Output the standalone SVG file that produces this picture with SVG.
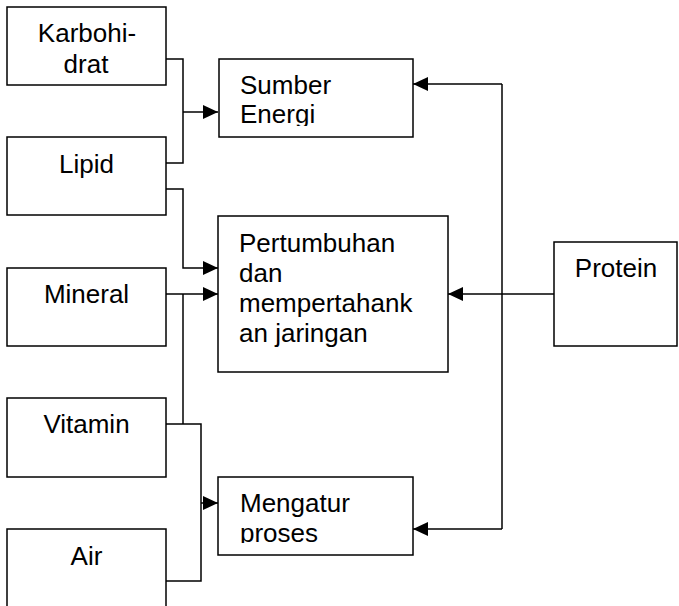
<svg xmlns="http://www.w3.org/2000/svg" width="679" height="606" viewBox="0 0 679 606">
<style>
.box{fill:#fff;stroke:#000;stroke-width:1.5}
.t{font-family:"Liberation Sans",Arial,sans-serif;font-size:26px;fill:#000}
.c{text-anchor:middle}
.ln{fill:none;stroke:#000;stroke-width:1.5}
.ar{fill:none;stroke:#000;stroke-width:1.5;marker-end:url(#ah)}
</style>
<defs>
<marker id="ah" markerUnits="userSpaceOnUse" markerWidth="16" markerHeight="16" viewBox="0 0 16 16" refX="15" refY="8" orient="auto">
<path d="M0,1 L15,8 L0,15 Z" fill="#000"/>
</marker>
<clipPath id="clipS"><rect x="219" y="59" width="194" height="67"/></clipPath>
<clipPath id="clipM"><rect x="218" y="477" width="195" height="66"/></clipPath>
</defs>
<g id="connectors">
<path class="ln" d="M166,59 H183 V163 H166"/>
<path class="ar" d="M183,112 H218"/>
<path class="ar" d="M166,189 H183 V268 H218"/>
<path class="ar" d="M166,294 H218"/>
<path class="ln" d="M183,294 V424"/>
<path class="ln" d="M166,424 H201 V581 H166"/>
<path class="ar" d="M201,503 H218"/>
<path class="ar" d="M554,294 H448"/>
<path class="ln" d="M502,84 V529"/>
<path class="ar" d="M502,84 H413"/>
<path class="ar" d="M502,529 H413"/>
</g>
<g id="karbohidrat">
<rect class="box" x="7" y="7" width="159" height="78"/>
<text class="t c" x="87" y="42">Karbohi-</text>
<text class="t c" x="86" y="73">drat</text>
</g>
<g id="lipid">
<rect class="box" x="7" y="137" width="159" height="78"/>
<text class="t c" x="86.5" y="173">Lipid</text>
</g>
<g id="mineral">
<rect class="box" x="7" y="268" width="159" height="78"/>
<text class="t c" x="86.5" y="303">Mineral</text>
</g>
<g id="vitamin">
<rect class="box" x="7" y="398" width="159" height="79"/>
<text class="t c" x="86.5" y="433">Vitamin</text>
</g>
<g id="air">
<rect class="box" x="7" y="529" width="159" height="100"/>
<text class="t c" x="86.5" y="565">Air</text>
</g>
<g id="sumber-energi">
<rect class="box" x="219" y="59" width="194" height="78"/>
<g clip-path="url(#clipS)">
<text class="t" x="240" y="94">Sumber</text>
<text class="t" x="240" y="123">Energi</text>
</g>
</g>
<g id="pertumbuhan">
<rect class="box" x="218" y="216" width="230" height="156"/>
<text class="t" x="239" y="252">Pertumbuhan</text>
<text class="t" x="239" y="282">dan</text>
<text class="t" x="239" y="312">mempertahank</text>
<text class="t" x="239" y="342">an jaringan</text>
</g>
<g id="mengatur-proses">
<rect class="box" x="218" y="477" width="195" height="78"/>
<g clip-path="url(#clipM)">
<text class="t" x="240" y="512">Mengatur</text>
<text class="t" x="240" y="542">proses</text>
</g>
</g>
<g id="protein">
<rect class="box" x="554" y="242" width="123" height="104"/>
<text class="t c" x="616" y="277">Protein</text>
</g>
</svg>
